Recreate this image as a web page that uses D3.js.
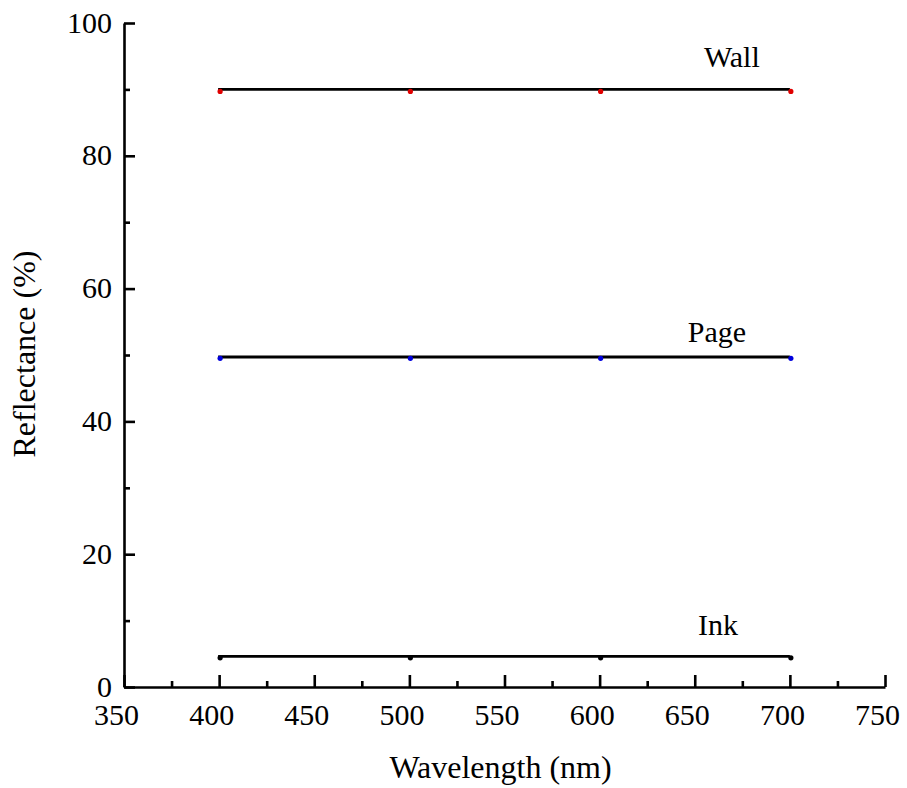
<!DOCTYPE html>
<html>
<head>
<meta charset="utf-8">
<script src="https://cdn.jsdelivr.net/npm/d3@7"></script>
<style>
  body { margin: 0; background: #fff; }
  svg text { font-family: "Liberation Serif", "Times New Roman", serif; fill: #000; }
</style>
</head>
<body>
<div id="vizHolder"></div>
<script>
// data
var wavelengths = [400, 500, 600, 700],
    seriesNames = ['Wall', 'Page', 'Ink'],
    lineValues  = [90, 49.7, 4.6],
    pointValues = [89.7, 49.5, 4.4],
    pointColors = ['#e00000', '#0000dd', '#000000'],
    labelX      = [669.5, 661.7, 662.2],
    labelY      = [93.4, 52.0, 7.8],
    xTicks      = [350, 400, 450, 500, 550, 600, 650, 700, 750],
    xMinor      = [375, 425, 475, 525, 575, 625, 675, 725],
    yTicks      = [0, 20, 40, 60, 80, 100],
    yMinor      = [10, 30, 50, 70, 90];

var width = 907,
    height = 788,
    margin = {left: 124, right: 22, top: 23, bottom: 101};

var svg = d3.select('#vizHolder')
      .append('svg')
      .attr('width', width)
      .attr('height', height);

var x = d3.scaleLinear()
      .domain([350, 750])
      .range([margin.left, width - margin.right]);

var y = d3.scaleLinear()
      .domain([0, 100])
      .range([height - margin.bottom, margin.top]);

/* ----------- axes ----------- */
var xAxisG = svg.append('g')
      .attr('transform', 'translate(0,' + y(0) + ')')
      .call(d3.axisBottom(x).tickValues(xTicks).tickSizeInner(-12).tickSizeOuter(0).tickPadding(17));

svg.append('g')
      .attr('transform', 'translate(0,' + y(0) + ')')
      .call(d3.axisBottom(x).tickValues(xMinor).tickSizeInner(-6).tickSizeOuter(0).tickFormat(''))
      .select('.domain').remove();

var yAxisG = svg.append('g')
      .attr('transform', 'translate(' + x(350) + ',0)')
      .call(d3.axisLeft(y).tickValues(yTicks).tickSizeInner(-11).tickSizeOuter(0).tickPadding(12));

svg.append('g')
      .attr('transform', 'translate(' + x(350) + ',0)')
      .call(d3.axisLeft(y).tickValues(yMinor).tickSizeInner(-6).tickSizeOuter(0).tickFormat(''))
      .select('.domain').remove();

svg.selectAll('.domain, .tick line')
      .attr('stroke', '#000')
      .attr('stroke-width', 2.6);

xAxisG.selectAll('.tick text')
      .attr('font-size', 30)
      .attr('dx', -8)
      .attr('dy', '0.71em');

yAxisG.selectAll('.tick text')
      .attr('font-size', 30)
      .attr('dy', '0.3em');

// axis titles
svg.append('text')
      .attr('x', (x(350) + x(750)) / 2 - 4)
      .attr('y', 778)
      .attr('text-anchor', 'middle')
      .attr('font-size', 32)
      .text('Wavelength (nm)');

svg.append('text')
      .attr('transform', 'translate(35,354) rotate(-90)')
      .attr('text-anchor', 'middle')
      .attr('font-size', 32)
      .text('Reflectance (%)');

/* ----------- series ----------- */
var series = seriesNames.map(function(name, i){
  return {name: name, level: lineValues[i], value: pointValues[i], color: pointColors[i], lx: labelX[i], ly: labelY[i]};
});

var g = svg.selectAll('g.series')
      .data(series)
      .enter()
      .append('g')
      .attr('class', 'series');

g.append('line')
      .attr('x1', x(wavelengths[0]) - 1)
      .attr('x2', x(wavelengths[wavelengths.length - 1]))
      .attr('y1', function(d){ return y(d.level); })
      .attr('y2', function(d){ return y(d.level); })
      .attr('stroke', '#000')
      .attr('stroke-width', 2.8);

g.selectAll('circle')
      .data(function(d){ return wavelengths.map(function(w){ return {w: w, v: d.value, c: d.color}; }); })
      .enter()
      .append('circle')
      .attr('cx', function(d){ return x(d.w) + 1; })
      .attr('cy', function(d){ return y(d.v); })
      .attr('r', 2.6)
      .attr('fill', function(d){ return d.c; });

g.append('text')
      .attr('x', function(d){ return x(d.lx); })
      .attr('y', function(d){ return y(d.ly); })
      .attr('text-anchor', 'middle')
      .attr('font-size', 30)
      .text(function(d){ return d.name; });
</script>
</body>
</html>
